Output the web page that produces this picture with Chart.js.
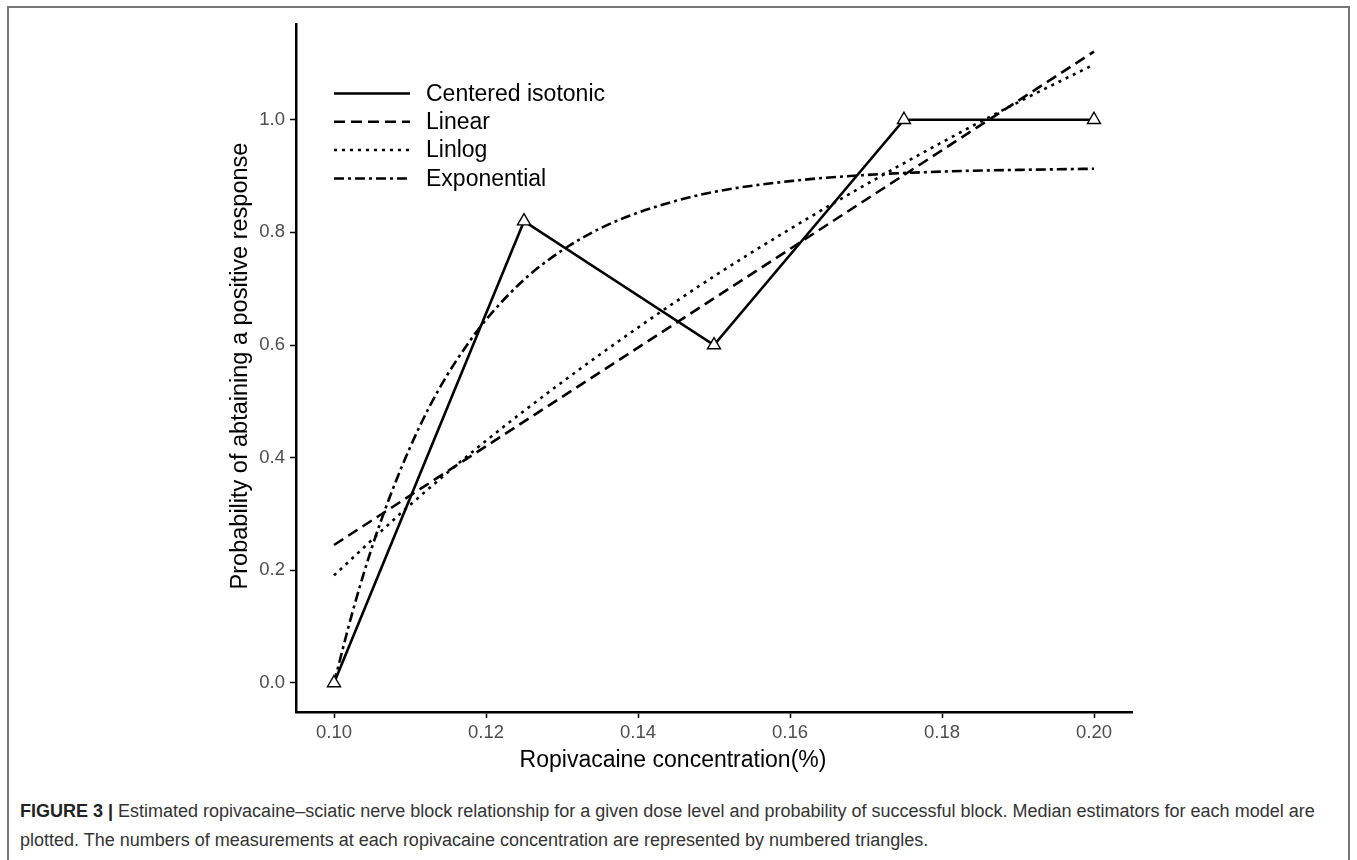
<!DOCTYPE html>
<html>
<head>
<meta charset="utf-8">
<script src="https://cdn.jsdelivr.net/npm/chart.js@4.4.1/dist/chart.umd.min.js"></script>
<style>
  html, body { margin: 0; padding: 0; background: #fff; width: 1357px; height: 860px; overflow: hidden; }
  #frame { position: absolute; left: 7px; top: 6px; width: 1343px; height: 900px; border: 2px solid #777; box-sizing: border-box; }
  #wrap { position: absolute; left: 0; top: 0; width: 1357px; height: 790px; }
  #cap { position: absolute; left: 20px; top: 797px; font-family: "Liberation Sans", Arial, sans-serif; font-size: 18px; line-height: 28.5px; color: #333; white-space: nowrap; }
  #cap b { color: #222; }
</style>
</head>
<body>
<div id="frame"></div>
<div id="wrap"><canvas id="c" width="1357" height="790"></canvas></div>
<div id="cap"><b>FIGURE 3 |</b> Estimated ropivacaine–sciatic nerve block relationship for a given dose level and probability of successful block. Median estimators for each model are<br>plotted. The numbers of measurements at each ropivacaine concentration are represented by numbered triangles.</div>
<script>
// ---- data ----
const xTicks = [0.10, 0.12, 0.14, 0.16, 0.18, 0.20];
const yTicks = [0.0, 0.2, 0.4, 0.6, 0.8, 1.0];

const seriesNames = ["Centered isotonic", "Linear", "Linlog", "Exponential"];

const isoX = [0.10, 0.125, 0.15, 0.175, 0.20];
const isoY = [0.00, 0.82, 0.60, 1.00, 1.00];

const linX = [0.10, 0.125, 0.15, 0.175, 0.20];
const linY = [0.245, 0.464, 0.683, 0.902, 1.121];

const llX = [0.10, 0.11, 0.12, 0.13, 0.14, 0.15, 0.16, 0.17, 0.18, 0.19, 0.20];
const llY = [0.191, 0.316, 0.430, 0.534, 0.631, 0.722, 0.806, 0.885, 0.960, 1.031, 1.098];

const expX = [0.10, 0.1025, 0.105, 0.1075, 0.11, 0.1125, 0.115, 0.1175, 0.12, 0.125, 0.13, 0.135, 0.14, 0.145, 0.15, 0.16, 0.17, 0.18, 0.19, 0.20];
const expY = [0.000, 0.129, 0.241, 0.336, 0.418, 0.489, 0.549, 0.600, 0.645, 0.716, 0.768, 0.807, 0.835, 0.856, 0.872, 0.891, 0.902, 0.908, 0.911, 0.913];

const xTitle = "Ropivacaine concentration(%)";
const yTitle = "Probability of abtaining a positive response";

// ---- chart ----
const FONT = '"Liberation Sans", Arial, sans-serif';
const pts = (xs, ys) => xs.map((x, i) => ({ x: x, y: ys[i] }));

const dashes = [[], [11, 6], [3, 5], [10, 4, 3, 4]];

const overlay = {
  id: 'overlay',
  afterDraw(chart) {
    const ctx = chart.ctx;
    const area = chart.chartArea;
    ctx.save();
    // axis titles
    ctx.fillStyle = '#000';
    ctx.font = '23px ' + FONT;
    ctx.textAlign = 'center';
    ctx.textBaseline = 'middle';
    ctx.fillText(xTitle, 673, area.bottom + 49);
    ctx.save();
    ctx.translate(241, 366);
    ctx.rotate(-Math.PI / 2);
    ctx.font = '23.5px ' + FONT;
    ctx.fillText(yTitle, 0, 0);
    ctx.restore();
    // legend inside plot
    ctx.textAlign = 'left';
    chart.data.datasets.forEach((ds, i) => {
      const y = 93.5 + i * 28.3;
      ctx.beginPath();
      ctx.setLineDash(ds.borderDash || []);
      ctx.lineWidth = 2.5;
      ctx.strokeStyle = '#000';
      ctx.moveTo(334, y);
      ctx.lineTo(410, y);
      ctx.stroke();
      ctx.setLineDash([]);
      ctx.fillStyle = '#000';
      ctx.fillText(ds.label, 426, y + 1);
    });
    ctx.restore();
  }
};

const common = { showLine: true, fill: false, borderColor: '#000', borderWidth: 2.6, pointRadius: 0, tension: 0 };

new Chart(document.getElementById('c'), {
  type: 'scatter',
  data: {
    datasets: [
      Object.assign({}, common, {
        label: seriesNames[0], data: pts(isoX, isoY), borderDash: dashes[0],
        pointStyle: 'triangle', pointRadius: 7.5, pointBackgroundColor: '#fff',
        pointBorderColor: '#000', pointBorderWidth: 1.4, order: 0
      }),
      Object.assign({}, common, { label: seriesNames[1], data: pts(linX, linY), borderDash: dashes[1], order: 1 }),
      Object.assign({}, common, { label: seriesNames[2], data: pts(llX, llY), borderDash: dashes[2], cubicInterpolationMode: 'monotone', order: 2 }),
      Object.assign({}, common, { label: seriesNames[3], data: pts(expX, expY), borderDash: dashes[3], cubicInterpolationMode: 'monotone', order: 3 })
    ]
  },
  options: {
    responsive: false,
    animation: false,
    devicePixelRatio: 1,
    layout: { padding: { left: 0, top: 24, right: 225, bottom: 0 } },
    plugins: { legend: { display: false }, tooltip: { enabled: false } },
    scales: {
      x: {
        type: 'linear', min: 0.095, max: 0.205,
        afterBuildTicks: s => { s.ticks = xTicks.map(v => ({ value: v })); },
        afterFit: s => { s.height = 78; },
        ticks: { callback: v => Number(v).toFixed(2), color: '#4d4d4d', font: { family: FONT, size: 18.5 }, padding: 4, maxRotation: 0, autoSkip: false },
        grid: { display: true, drawOnChartArea: false, drawTicks: true, tickLength: 6, tickWidth: 1.5, tickColor: '#000' },
        border: { display: true, color: '#000', width: 2.5 }
      },
      y: {
        type: 'linear', min: -0.0515, max: 1.17,
        afterBuildTicks: s => { s.ticks = yTicks.map(v => ({ value: v })); },
        afterFit: s => { s.width = 296; },
        ticks: { callback: v => Number(v).toFixed(1), color: '#4d4d4d', font: { family: FONT, size: 18.5 }, padding: 5, autoSkip: false },
        grid: { display: true, drawOnChartArea: false, drawTicks: true, tickLength: 6, tickWidth: 1.5, tickColor: '#000' },
        border: { display: true, color: '#000', width: 2.5 }
      }
    }
  },
  plugins: [overlay]
});
</script>
</body>
</html>
